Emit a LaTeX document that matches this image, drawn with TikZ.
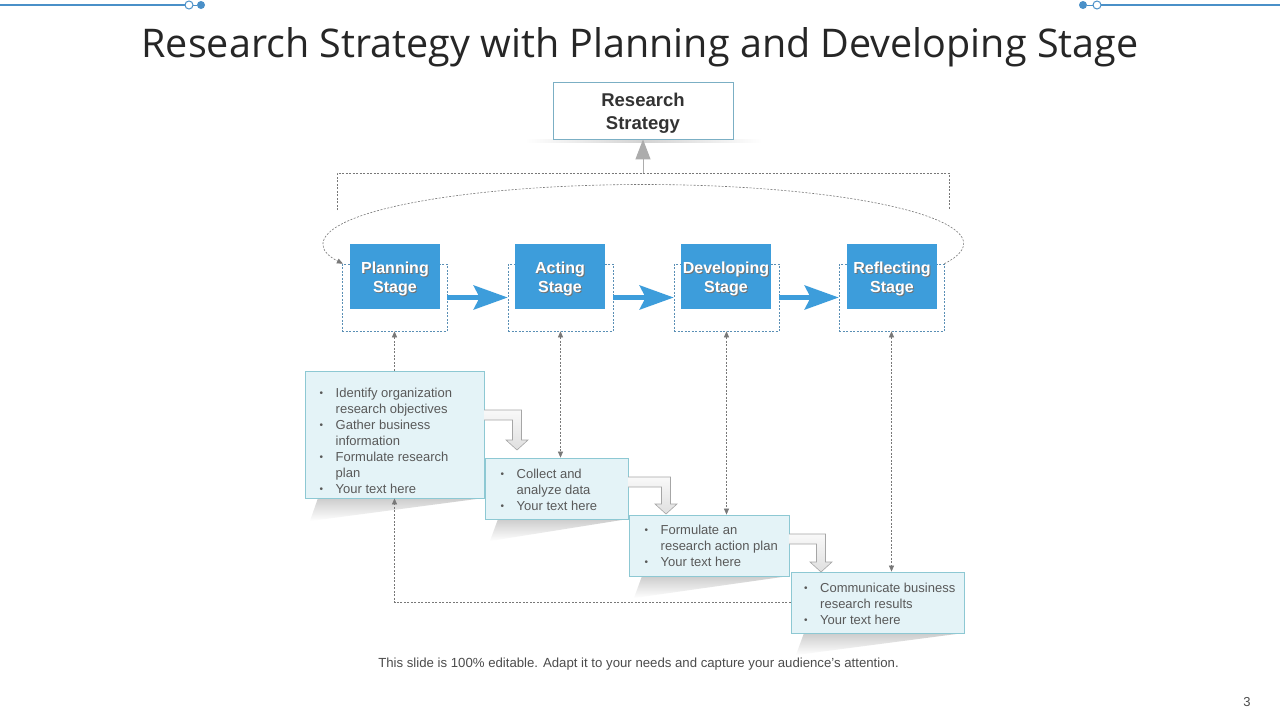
\documentclass[tikz,border=0pt]{standalone}
\usepackage{fontspec}
\setmainfont{Liberation Sans}
\newfontfamily\titlefont{Open Sans}
\usetikzlibrary{arrows.meta,calc}
\definecolor{stageblue}{RGB}{61,157,219}
\definecolor{boxfill}{RGB}{228,243,247}
\definecolor{boxline}{RGB}{141,200,211}
\definecolor{dashblue}{RGB}{90,143,181}
\definecolor{linegray}{RGB}{120,120,120}
\definecolor{txtgray}{RGB}{89,89,89}
\definecolor{decoblue}{RGB}{74,144,200}
\definecolor{rsline}{RGB}{123,175,196}
\newcommand\bul{\makebox[16pt][l]{\raisebox{0.5pt}{\fontsize{10}{10}\selectfont\textbullet}}}
\newcommand\stagetext[1]{\raisebox{-3.5pt}[\height][\depth]{\rlap{\hspace{1pt}\raisebox{-1pt}{\textcolor{black!55}{\begin{tabular}{@{}c@{}}#1\end{tabular}}}}\begin{tabular}{@{}c@{}}#1\end{tabular}}}
\newcommand\bentarr[4]{%
  \draw[bentarrow] (#1,#2) -- ({#3+4.5},#2) -- ({#3+4.5},{#4-10}) -- ({#3+11},{#4-10}) -- (#3,#4) -- ({#3-11},{#4-10}) -- ({#3-4.5},{#4-10}) -- ({#3-4.5},{#2+10}) -- (#1,{#2+10});}
\tikzset{
  stagebox/.style={fill=stageblue, minimum width=90pt, minimum height=65pt, inner sep=0pt, text=white, font=\fontsize{16}{19}\selectfont\bfseries},
  dashbox/.style={draw=dashblue, dash pattern=on 2pt off 1.5pt, line width=0.6pt, minimum width=105pt, minimum height=67pt, inner sep=0pt},
  textbox/.style={draw=boxline, fill=boxfill, line width=0.8pt, inner sep=0pt},
  flowarrow/.style={draw=stageblue, line width=5pt, -{Stealth[length=34pt,width=24pt,inset=6pt]}},
  dconn/.style={draw=linegray, line width=0.6pt, dash pattern=on 2pt off 1.5pt},
  tipend/.style={-{Triangle[length=6pt,width=5pt]}},
  bothtip/.style={{Triangle[length=6pt,width=5pt]}-{Triangle[length=6pt,width=5pt]}},
  bentarrow/.style={draw=gray!70, line width=0.6pt, top color=gray!5, bottom color=gray!25},
  listtext/.style={anchor=base west, inner sep=0pt, text=txtgray, font=\fontsize{13}{16}\selectfont},
  shadowwedge/.style={top color=gray!40, bottom color=white, draw=none},
}
\begin{document}
\begin{tikzpicture}[x=1pt,y=-1pt]
\useasboundingbox[fill=white] (0,0) rectangle (1280,720);
% top decoration
\draw[decoblue, line width=1.5pt] (0,5) -- (185,5);
\draw[decoblue, line width=1pt, fill=white] (189,5) circle (4);
\draw[decoblue, line width=1pt] (193,5) -- (197,5);
\fill[decoblue] (201,5) circle (4);
\fill[decoblue] (1083,5) circle (4);
\draw[decoblue, line width=1pt] (1087,5) -- (1093,5);
\draw[decoblue, line width=1pt, fill=white] (1097,5) circle (4);
\draw[decoblue, line width=1.5pt] (1101,5) -- (1280,5);
% title
\node[text=black!85, font=\titlefont\fontsize{39.5}{44}\selectfont] (title) at (640,47) {Research Strategy with Planning and Developing Stage};
% research strategy box
\shade[left color=white, right color=white, middle color=gray!35] (525,139) rectangle (762,142.5);
\node[draw=rsline, fill=white, line width=0.8pt, minimum width=180pt, minimum height=57pt, inner sep=0pt, text=black!80, font=\fontsize{18.5}{23.5}\selectfont\bfseries] (rs) at (643,110.5) {\raisebox{-3pt}[\height][\depth]{\begin{tabular}{@{}c@{}}Research\\Strategy\end{tabular}}};
% bracket and up arrow
\coordinate (brL) at (337,210);
\coordinate (brR) at (949,210);
\coordinate (brT) at (643,173);
\draw[dconn] (brL) |- (brT) -| (brR);
\draw[draw=gray!65, line width=1pt, -{Triangle[length=20pt,width=15pt]}, color=gray!65] (brT) -- (rs.south);
% dashed boxes
\node[dashbox] (d1) at (394.5,297.5) {};
\node[dashbox] (d2) at (560.5,297.5) {};
\node[dashbox] (d3) at (726.5,297.5) {};
\node[dashbox] (d4) at (891.5,297.5) {};
% stage boxes
\node[stagebox] (s1) at (395,276.5) {\stagetext{Planning\\Stage}};
\node[stagebox] (s2) at (560,276.5) {\stagetext{Acting\\Stage}};
\node[stagebox] (s3) at (726,276.5) {\stagetext{Developing\\Stage}};
\node[stagebox] (s4) at (892,276.5) {\stagetext{Reflecting\\Stage}};
% flow arrows
\draw[flowarrow] (d1.east) -- (d2.west);
\draw[flowarrow] (d2.east) -- (d3.west);
\draw[flowarrow] (d3.east) -- (d4.west);
% loop ellipse
\draw[dconn, tipend] (d4.north east) arc[start angle=20, end angle=-200, x radius=320, y radius=59];
% shadows of text boxes
\shade[shadowwedge] (318,498) -- (484,498) -- (310,521) -- cycle;
\shade[shadowwedge] (498,519) -- (628,519) -- (490,541) -- cycle;
\shade[shadowwedge] (642,576) -- (789,576) -- (634,598) -- cycle;
\shade[shadowwedge] (804,633) -- (964,633) -- (796,655) -- cycle;
% text boxes
\node[textbox, minimum width=179pt, minimum height=127pt] (b1) at (394.5,434.5) {};
\node[textbox, minimum width=143pt, minimum height=61pt] (b2) at (556.5,488.5) {};
\node[textbox, minimum width=160pt, minimum height=61pt] (b3) at (709,545.5) {};
\node[textbox, minimum width=173pt, minimum height=61pt] (b4) at (877.5,602.5) {};
\node[listtext] (t1) at (319.5,397) {\begin{tabular}[t]{@{}l@{}l@{}}\bul&Identify organization\\&research objectives\\\bul&Gather business\\&information\\\bul&Formulate research\\&plan\\\bul&Your text here\end{tabular}};
\node[listtext] (t2) at (500.5,478) {\begin{tabular}[t]{@{}l@{}l@{}}\bul&Collect and\\&analyze data\\\bul&Your text here\end{tabular}};
\node[listtext] (t3) at (644.5,534) {\begin{tabular}[t]{@{}l@{}l@{}}\bul&Formulate an\\&research action plan\\\bul&Your text here\end{tabular}};
\node[listtext] (t4) at (804,592) {\begin{tabular}[t]{@{}l@{}l@{}}\bul&Communicate business\\&research results\\\bul&Your text here\end{tabular}};
% bent arrows
\bentarr{484}{410}{517}{450}
\bentarr{628}{477}{666}{514}
\bentarr{789}{534}{821}{572}
% vertical connectors
\draw[dconn, tipend] (b1.north -| d1.south) -- (d1.south);
\draw[dconn, bothtip] (d2.south) -- (d2.south |- b2.north);
\draw[dconn, bothtip] (d3.south) -- (d3.south |- b3.north);
\draw[dconn, bothtip] (d4.south) -- (d4.south |- b4.north);
\draw[dconn, tipend] (b4.west) -| (b1.south -| d1.south);
% footer
\node[text=black!70, font=\fontsize{13.2}{15}\selectfont] (foot) at (638.5,664) {This slide is 100\% editable. Adapt it to your needs and capture your audience's attention.};
\node[text=black!70, font=\fontsize{13}{15}\selectfont] (pg) at (1247,702) {3};
\end{tikzpicture}
\end{document}
